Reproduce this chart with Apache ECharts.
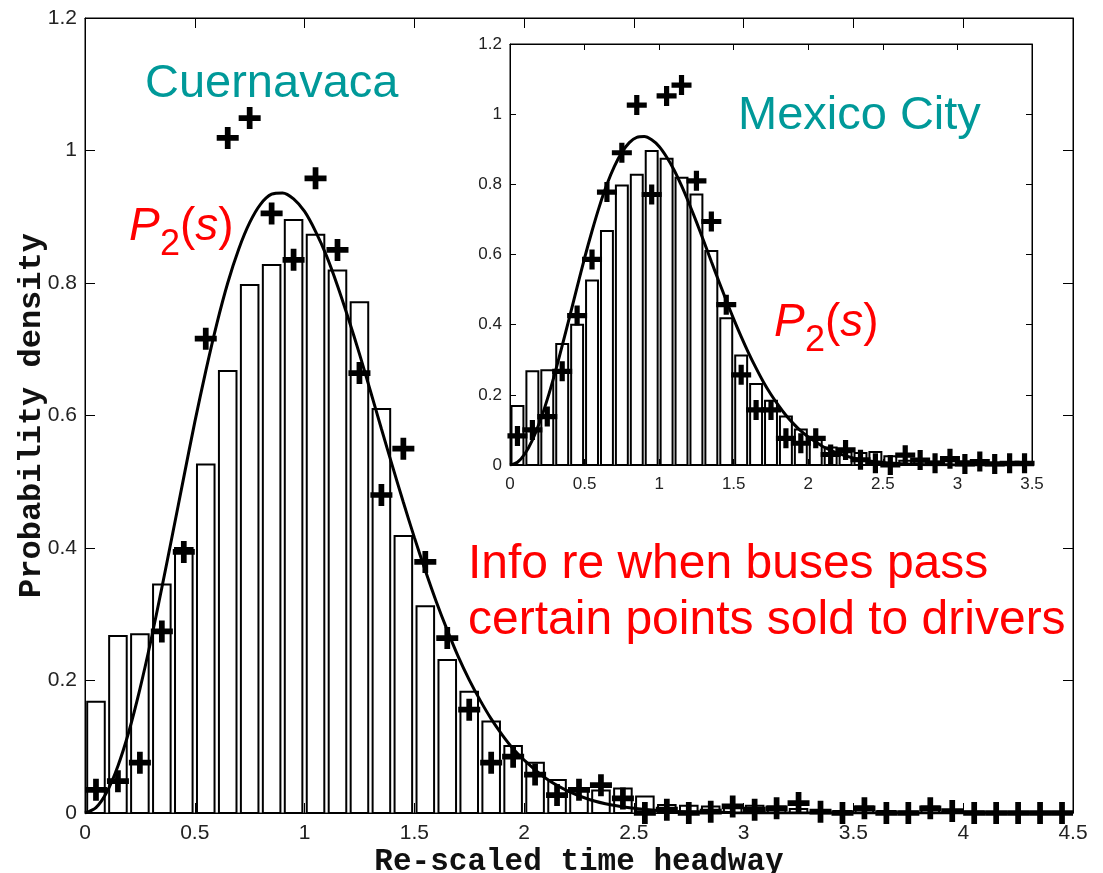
<!DOCTYPE html>
<html>
<head>
<meta charset="utf-8">
<script src="https://cdn.jsdelivr.net/npm/echarts@6/dist/echarts.min.js"></script>
<style>
html,body{margin:0;padding:0;background:#fff;}
#chart{width:1103px;height:873px;}
</style>
</head>
<body>
<div id="chart"></div>
<script>
// ---- data ----
const binCenters = [0.05,0.15,0.25,0.35,0.45,0.55,0.65,0.75,0.85,0.95,1.05,1.15,1.25,1.35,1.45,1.55,1.65,1.75,1.85,1.95,2.05,2.15,2.25,2.35,2.45,2.55,2.65,2.75,2.85,2.95,3.05,3.15,3.25,3.35,3.45,3.55,3.65,3.75,3.85,3.95,4.05,4.15,4.25,4.35,4.45];
const histHeights = [0.168,0.267,0.270,0.345,0.400,0.526,0.667,0.797,0.827,0.895,0.873,0.819,0.771,0.610,0.418,0.312,0.231,0.183,0.138,0.101,0.076,0.050,0.036,0.034,0.037,0.025,0.012,0.011,0.010,0.011,0.011,0.010,0.006,0.004,0.003,0.010,0.003,0.002,0.010,0.004,0.002,0.001,0.001,0,0];
const cuernavacaPts = [0.035,0.048,0.076,0.274,0.394,0.716,1.019,1.049,0.905,0.835,0.958,0.850,0.664,0.480,0.550,0.379,0.264,0.156,0.076,0.085,0.058,0.027,0.035,0.042,0.022,0,0.005,0,0.002,0.010,0.005,0.007,0.015,0.002,0,0.007,0,0,0.007,0.003,0,0,0,0,0];
const mexicoPts = [0.083,0.100,0.138,0.267,0.426,0.586,0.778,0.890,1.026,0.771,1.052,1.083,0.810,0.694,0.457,0.257,0.157,0.157,0.076,0.062,0.076,0.030,0.043,0.015,0.005,0,0.028,0.014,0.005,0.018,0.003,0.010,0.003,0.005,0.005];
const curveS = [0,0.05,0.1,0.15,0.2,0.25,0.3,0.35,0.4,0.45,0.5,0.55,0.6,0.65,0.7,0.75,0.8,0.85,0.9,0.95,1.0,1.05,1.1,1.15,1.2,1.25,1.3,1.35,1.4,1.45,1.5,1.55,1.6,1.65,1.7,1.75,1.8,1.85,1.9,1.95,2.0,2.1,2.2,2.3,2.4,2.5,2.6,2.7,2.8,2.9,3.0,3.5,4.0,4.5];
const curveP = [0,0.008,0.032,0.071,0.123,0.187,0.260,0.340,0.423,0.507,0.590,0.667,0.738,0.800,0.851,0.891,0.919,0.934,0.936,0.927,0.908,0.878,0.841,0.796,0.746,0.693,0.637,0.580,0.524,0.469,0.416,0.366,0.319,0.276,0.236,0.201,0.170,0.142,0.118,0.097,0.080,0.052,0.033,0.020,0.012,0.007,0.004,0.002,0.001,0.001,0,0,0,0];
const mainXTicks = {min:0, max:4.5, interval:0.5};
const mainYTicks = {min:0, max:1.2, interval:0.2};
const insetXTicks = {min:0, max:3.5, interval:0.5};
const insetYTicks = {min:0, max:1.2, interval:0.2};

// ---- build ----
const pairs = (xs, ys) => ys.map((v, i) => [xs[i], v]);
const histMain = pairs(binCenters, histHeights);
const histInset = pairs(binCenters.slice(0, 35), histHeights.slice(0, 35));
const ptsMain = pairs(binCenters, cuernavacaPts);
const ptsInset = pairs(binCenters.slice(0, 35), mexicoPts);
const curve = pairs(curveS, curveP);

const PLUS = 'path://M37,0H63V37H100V63H63V100H37V63H0V37H37Z';
const SANS = '"Liberation Sans", Arial, Helvetica, sans-serif';
const MONO = '"Liberation Mono", "Courier New", monospace';
const RED = '#ff0000';
const TEAL = '#009999';

function barItem(params, api) {
  const x = api.value(0), y = api.value(1);
  const p0 = api.coord([x - 0.04, y]);
  const p1 = api.coord([x + 0.04, 0]);
  return {
    type: 'rect',
    shape: {x: p0[0], y: p0[1], width: p1[0] - p0[0], height: p1[1] - p0[1]},
    style: {fill: '#fff', stroke: '#000', lineWidth: 2}
  };
}

function axis(grid, t, pos, showLabel, tickLen, fs, margin, name, gap, nameSize) {
  return {
    type: 'value', gridIndex: grid, position: pos,
    min: t.min, max: t.max, interval: t.interval,
    axisLine: {show: true, onZero: false, lineStyle: {color: '#000', width: 1}},
    axisTick: {show: true, inside: true, length: tickLen, lineStyle: {color: '#000', width: 1}},
    axisLabel: {show: showLabel, fontSize: fs, color: '#222', fontFamily: SANS, margin: margin},
    splitLine: {show: false},
    name: name || '', nameLocation: 'middle', nameGap: gap || 30, nameMoveOverlap: false,
    nameTextStyle: {fontFamily: MONO, fontWeight: 'bold', fontSize: nameSize || 31, color: '#111'}
  };
}

function txt(text, left, top, size, color, extra) {
  return {
    text: text, left: left, top: top, padding: 0,
    textStyle: Object.assign({fontSize: size, lineHeight: Math.round(size * 1.2), color: color,
      fontWeight: 'normal', fontFamily: SANS}, extra || {})
  };
}
const richS = {s: {fontStyle: 'italic', fontWeight: 'normal', fontSize: 46, lineHeight: 56, color: RED, fontFamily: SANS},
               n: {fontWeight: 'normal', fontSize: 46, lineHeight: 56, color: RED, fontFamily: SANS}};

function p2Label(left, baseline) {
  // P (italic), subscript 2, (s)
  return [
    txt('P', left, baseline - 44, 46, RED, {fontStyle: 'italic', lineHeight: 56}),
    txt('2', left + 31, baseline + 14 - 30, 36, RED, {lineHeight: 36}),
    txt('{n|(}{s|s}{n|)}', left + 51, baseline - 44, 46, RED, {lineHeight: 56, rich: richS})
  ];
}

const chart = echarts.init(document.getElementById('chart'), null, {renderer: 'canvas'});
chart.setOption({
  animation: false,
  backgroundColor: '#fff',
  title: [
    txt('Cuernavaca', 145, 56, 47, TEAL, {lineHeight: 56}),
    txt('Mexico City', 738, 88, 47, TEAL, {lineHeight: 56}),
    txt('Info re when buses pass\ncertain points sold to drivers', 468, 537, 48, RED, {lineHeight: 56})
  ].concat(p2Label(129, 243)).concat(p2Label(774, 339)),
  grid: [
    {left: 85, top: 18, width: 988, height: 795, show: true, borderColor: '#000', borderWidth: 1,
     backgroundColor: 'transparent', containLabel: false, outerBoundsMode: 'none'},
    {left: 510, top: 44, width: 522, height: 421, show: true, borderColor: '#000', borderWidth: 1,
     backgroundColor: '#fff', containLabel: false, outerBoundsMode: 'none'}
  ],
  xAxis: [
    axis(0, mainXTicks, 'bottom', true, 10, 21, 10, 'Re-scaled time headway', 34, 31),
    axis(0, mainXTicks, 'top', false, 10, 21, 10),
    axis(1, insetXTicks, 'bottom', true, 6, 17, 11),
    axis(1, insetXTicks, 'top', false, 6, 17, 11)
  ],
  yAxis: [
    axis(0, mainYTicks, 'left', true, 10, 21, 8, 'Probability density', 37, 32),
    axis(0, mainYTicks, 'right', false, 10, 21, 8),
    axis(1, insetYTicks, 'left', true, 6, 17, 8),
    axis(1, insetYTicks, 'right', false, 6, 17, 8)
  ],
  series: [
    {type: 'custom', xAxisIndex: 0, yAxisIndex: 0, data: histMain, renderItem: barItem, z: 2, clip: true},
    {type: 'line', xAxisIndex: 0, yAxisIndex: 0, data: curve, showSymbol: false, smooth: 0.3,
     lineStyle: {color: '#000', width: 3}, z: 3},
    {type: 'scatter', xAxisIndex: 0, yAxisIndex: 0, data: ptsMain, symbol: PLUS, symbolSize: 22,
     itemStyle: {color: '#000', opacity: 1}, z: 4},
    {type: 'custom', xAxisIndex: 2, yAxisIndex: 2, data: histInset, renderItem: barItem, z: 5, clip: true},
    {type: 'line', xAxisIndex: 2, yAxisIndex: 2, data: curve, showSymbol: false, smooth: 0.3,
     lineStyle: {color: '#000', width: 3}, z: 6},
    {type: 'scatter', xAxisIndex: 2, yAxisIndex: 2, data: ptsInset, symbol: PLUS, symbolSize: 20,
     itemStyle: {color: '#000', opacity: 1}, z: 7}
  ]
});
</script>
</body>
</html>
